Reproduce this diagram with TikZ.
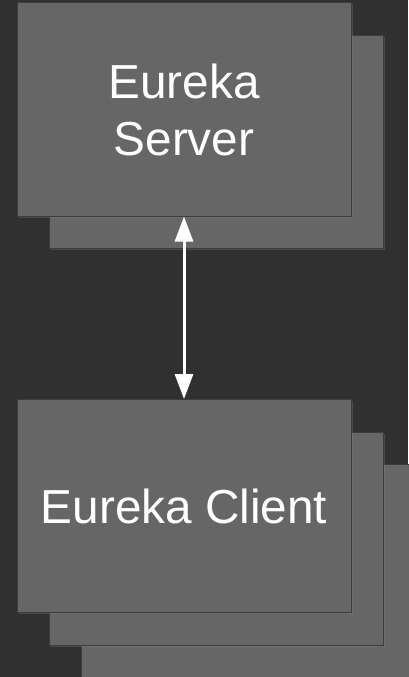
\documentclass[tikz,border=0pt]{standalone}
\usepackage{fontspec}
\setmainfont{Liberation Sans}
\usetikzlibrary{arrows.meta,shadows}
\definecolor{bgdark}{HTML}{303030}
\definecolor{boxgray}{HTML}{666666}
\definecolor{boxedge}{HTML}{3C3C3C}

\begin{document}
\begin{tikzpicture}[x=1pt,y=-1pt,
	box/.style={rectangle,draw=boxedge,line width=1pt,fill=boxgray,
		minimum width=334pt,minimum height=213pt,inner sep=0pt,
		drop shadow={opacity=0.35,shadow xshift=1.5pt,shadow yshift=-1.5pt},
		text=white,align=center,font=\fontsize{47.7}{57}\selectfont}]
	\fill[bgdark] (0,0) rectangle (408,677);
	\useasboundingbox (0,0) rectangle (408,677);
	% server stack
	\node[box] (server2) at (216,142) {};
	\node[box] (server) at (184,109.5) {Eureka\\Server};
	% client stack
	\node[box] (client3) at (248,570.5) {};
	\node[box] (client2) at (216,538.5) {};
	\node[box] (client) at (184,506) {Eureka Client};
	\path[{Triangle[width=18pt,length=25pt]}-{Triangle[width=18pt,length=25pt]},white,line width=3pt]
	(server) edge (client);
\end{tikzpicture}
\end{document}
